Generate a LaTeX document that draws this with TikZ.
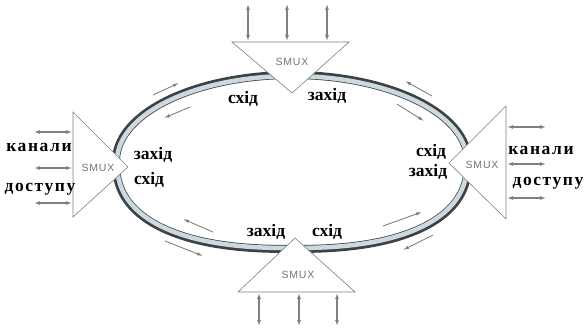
\documentclass[tikz,border=0pt]{standalone}
\usepackage{fontspec}
\setmainfont{Liberation Serif}
\setsansfont{Liberation Sans}
\newfontfamily\spacedfont[LetterSpace=9]{Liberation Serif}
\newfontfamily\smuxfont[LetterSpace=8]{Liberation Sans}
\usetikzlibrary{arrows.meta}
\definecolor{ringdark}{rgb}{0.24, 0.26, 0.27}
\definecolor{ringlight}{rgb}{0.80, 0.85, 0.87}
\definecolor{smuxgray}{rgb}{0.45, 0.45, 0.45}
\definecolor{arrowgray}{rgb}{0.50, 0.50, 0.50}
% ring: half ellipse on top, slightly squarer half below
\newcommand{\ringcurve}[3]{plot[smooth cycle, domain=1:358, samples=120]
	({292+#1*sign(cos(\x))*abs(cos(\x))^(\x<180 ? 0.8333 : 1)},
	 {161+(\x<180 ? #3 : #2)*sign(sin(\x))*abs(sin(\x))^(\x<180 ? 0.8333 : 1)})}

\begin{document}
\begin{tikzpicture}[x=1pt,y=-1pt,
		smuxtri/.style={draw=arrowgray, fill=white, line width=0.6pt},
		smuxtext/.style={font=\smuxfont\fontsize{10.5}{10.5}\selectfont, text=smuxgray, inner sep=0},
		portname/.style={font=\fontsize{17.5}{17.5}\selectfont\bfseries, inner sep=0},
		channame/.style={font=\fontsize{17.5}{17.5}\selectfont\spacedfont\bfseries, inner sep=0},
		access/.style={arrowgray, line width=1.1pt, {Latex[length=6pt,width=4pt]}-{Latex[length=6pt,width=4pt]}},
		flow/.style={arrowgray, line width=0.9pt, -{Latex[length=6pt,width=3.5pt]}}]
	\useasboundingbox (0,0) rectangle (585,329);
	
	% ring
	\draw[ringdark, line width=8pt] \ringcurve{176}{86}{88};
	\draw[ringlight, line width=4.5pt] \ringcurve{175}{85}{87};
	
	% flow arrows along the ring
	\coordinate (f1a) at (153,95);  \coordinate (f1b) at (179,83);
	\coordinate (f2a) at (190,107); \coordinate (f2b) at (164,118);
	\coordinate (f3a) at (432,96);  \coordinate (f3b) at (405,81);
	\coordinate (f4a) at (397,104); \coordinate (f4b) at (424,121);
	\coordinate (f5a) at (213,232); \coordinate (f5b) at (183,219);
	\coordinate (f6a) at (165,241); \coordinate (f6b) at (203,256);
	\coordinate (f7a) at (383,226); \coordinate (f7b) at (422,212);
	\coordinate (f8a) at (433,235); \coordinate (f8b) at (403,250);
	\foreach \i in {1,...,8}
		\draw[flow] (f\i a) -- (f\i b);
	
	% top SMUX
	\coordinate (tA) at (232,42);
	\coordinate (tB) at (349,42);
	\coordinate (tC) at (292,93);
	\draw[smuxtri] (tA) -- (tB) -- (tC) -- cycle;
	\node[smuxtext] (smuxT) at (292,62) {SMUX};
	\foreach \x [count=\i] in {248,287,327} {
		\coordinate (tout\i) at (\x,4);
		\coordinate (tin\i) at (\x,41);
		\draw[access] (tout\i) -- (tin\i);
	}
	
	% left SMUX
	\coordinate (lA) at (73,112);
	\coordinate (lB) at (73,217);
	\coordinate (lC) at (128,167);
	\draw[smuxtri] (lA) -- (lC) -- (lB) -- cycle;
	\node[smuxtext] (smuxL) at (98,168) {SMUX};
	\foreach \y [count=\i] in {132,168,203} {
		\coordinate (lout\i) at (34,\y);
		\coordinate (lin\i) at (72,\y);
		\draw[access] (lout\i) -- (lin\i);
	}
	
	% right SMUX
	\coordinate (rA) at (506,106);
	\coordinate (rB) at (506,219);
	\coordinate (rC) at (449,163);
	\draw[smuxtri] (rA) -- (rC) -- (rB) -- cycle;
	\node[smuxtext] (smuxR) at (482,165) {SMUX};
	\foreach \y [count=\i] in {127,164,198} {
		\coordinate (rin\i) at (507,\y);
		\coordinate (rout\i) at (546,\y);
		\draw[access] (rin\i) -- (rout\i);
	}
	
	% bottom SMUX
	\coordinate (bA) at (238,292);
	\coordinate (bB) at (355,292);
	\coordinate (bC) at (295,238);
	\draw[smuxtri] (bA) -- (bC) -- (bB) -- cycle;
	\node[smuxtext] (smuxB) at (298,275) {SMUX};
	\foreach \x [count=\i] in {259,299,337} {
		\coordinate (bin\i) at (\x,293);
		\coordinate (bout\i) at (\x,326);
		\draw[access] (bin\i) -- (bout\i);
	}
	
	% port names
	\node[portname] (tE) at (243,99) {схід};
	\node[portname] (tW) at (327,96) {захід};
	\node[portname] (lW) at (153,155) {захід};
	\node[portname] (lE) at (149,180) {схід};
	\node[portname] (rE) at (431,152) {схід};
	\node[portname] (rW) at (428,172) {захід};
	\node[portname] (bW) at (266,232) {захід};
	\node[portname] (bE) at (327,232) {схід};
	
	% access channels
	\node[channame] (lch1) at (39,147) {канали};
	\node[channame] (lch2) at (40,189) {доступу};
	\node[channame] (rch1) at (541,150) {канали};
	\node[channame] (rch2) at (548,183) {доступу};
\end{tikzpicture}
\end{document}
